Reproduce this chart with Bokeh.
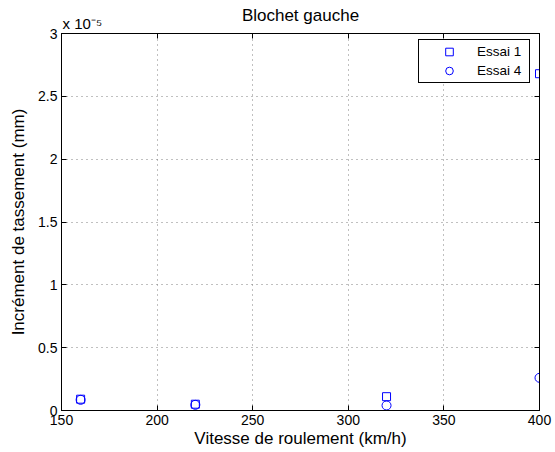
from bokeh.plotting import figure
from bokeh.models import Range1d, LinearAxis, FixedTicker, Legend, LegendItem
from bokeh.embed import file_html
from bokeh.resources import INLINE

# Data (values in units of 1e-5 mm)
speeds = [160, 220, 320, 400]
essai1 = [0.09, 0.05, 0.11, 2.68]
essai4 = [0.085, 0.045, 0.04, 0.26]
x_ticks = [150, 200, 250, 300, 350, 400]
y_ticks = [0, 0.5, 1, 1.5, 2, 2.5, 3]
y_tick_labels = ["0", "0.5", "1", "1.5", "2", "2.5", "3"]
title_text = "Blochet gauche"
exponent_text = "x 10\u207b\u2075"

FONT = "Liberation Sans"

p = figure(width=555, height=452, output_backend="svg", toolbar_location=None,
           title=None,
           x_range=Range1d(150, 400), y_range=Range1d(0, 3),
           min_border_left=61, min_border_right=16, min_border_top=33, min_border_bottom=42)

p.outline_line_color = "black"
p.outline_line_width = 1
p.outline_line_alpha = 1

for ax in (p.xaxis[0], p.yaxis[0]):
    ax.major_tick_in = 5
    ax.major_tick_out = 0
    ax.minor_tick_in = 0
    ax.minor_tick_out = 0
    ax.axis_line_color = "black"
    ax.major_tick_line_color = "black"
    ax.major_label_text_font = FONT
    ax.major_label_text_font_size = "14px"
    ax.major_label_text_color = "black"
    ax.axis_label_text_font = FONT
    ax.axis_label_text_font_size = "17px"
    ax.axis_label_text_font_style = "normal"
    ax.axis_label_text_color = "black"

p.xaxis.ticker = FixedTicker(ticks=x_ticks)
p.yaxis.ticker = FixedTicker(ticks=y_ticks)
p.yaxis.major_label_overrides = {t: l for t, l in zip(y_ticks, y_tick_labels)}
p.xaxis.axis_label = "Vitesse de roulement (km/h)"
p.yaxis.axis_label = "Incrément de tassement (mm)"
p.xaxis.major_label_standoff = 4
p.yaxis.major_label_standoff = 4
p.xaxis.axis_label_standoff = 1
p.yaxis.axis_label_standoff = 7

# Mirror ticks on right
rax = LinearAxis(ticker=FixedTicker(ticks=y_ticks), major_tick_in=5, major_tick_out=0,
                 minor_tick_in=0, minor_tick_out=0, major_label_text_font_size="0px",
                 major_label_standoff=0, axis_line_color="black")
p.add_layout(rax, "right")

# Top axis: mirrored ticks, exponent label at the left end, title as axis label
top_labels = {t: "" for t in x_ticks}
top_labels[x_ticks[0]] = "\u00a0" * 10 + exponent_text
tax = LinearAxis(ticker=FixedTicker(ticks=x_ticks), major_tick_in=5, major_tick_out=0,
                 minor_tick_in=0, minor_tick_out=0,
                 major_label_overrides=top_labels,
                 major_label_text_font=FONT, major_label_text_font_size="15px",
                 major_label_text_color="black", major_label_standoff=2,
                 axis_label=title_text, axis_label_text_font=FONT,
                 axis_label_text_font_size="17px", axis_label_text_font_style="normal",
                 axis_label_text_color="black", axis_label_standoff=-13,
                 axis_line_color="black")
p.add_layout(tax, "above")

p.xgrid.grid_line_color = "#808080"
p.ygrid.grid_line_color = "#808080"
p.xgrid.grid_line_dash = "1 4"
p.ygrid.grid_line_dash = "1 4"
p.xgrid.grid_line_width = 1
p.ygrid.grid_line_width = 1

r1 = p.scatter(speeds, essai1, marker="square", size=8, fill_color=None,
               line_color="#0000ff", line_width=1)
r4 = p.scatter(speeds, essai4, marker="circle", size=9, fill_color=None,
               line_color="#0000ff", line_width=1)

legend = Legend(items=[LegendItem(label="Essai 1", renderers=[r1]),
                       LegendItem(label="Essai 4", renderers=[r4])],
                location=(357, 327))
legend.border_line_color = "black"
legend.border_line_width = 1
legend.border_line_alpha = 0.99
legend.background_fill_alpha = 1
legend.label_text_font = FONT
legend.label_text_font_size = "13.5px"
legend.label_text_color = "#000000"
legend.margin = 0
legend.padding = 2
legend.spacing = 0
legend.glyph_width = 56
legend.glyph_height = 19
legend.label_height = 19
legend.label_width = 50
legend.label_standoff = 0
p.add_layout(legend)

open("out.html", "w").write(file_html(p, INLINE))
